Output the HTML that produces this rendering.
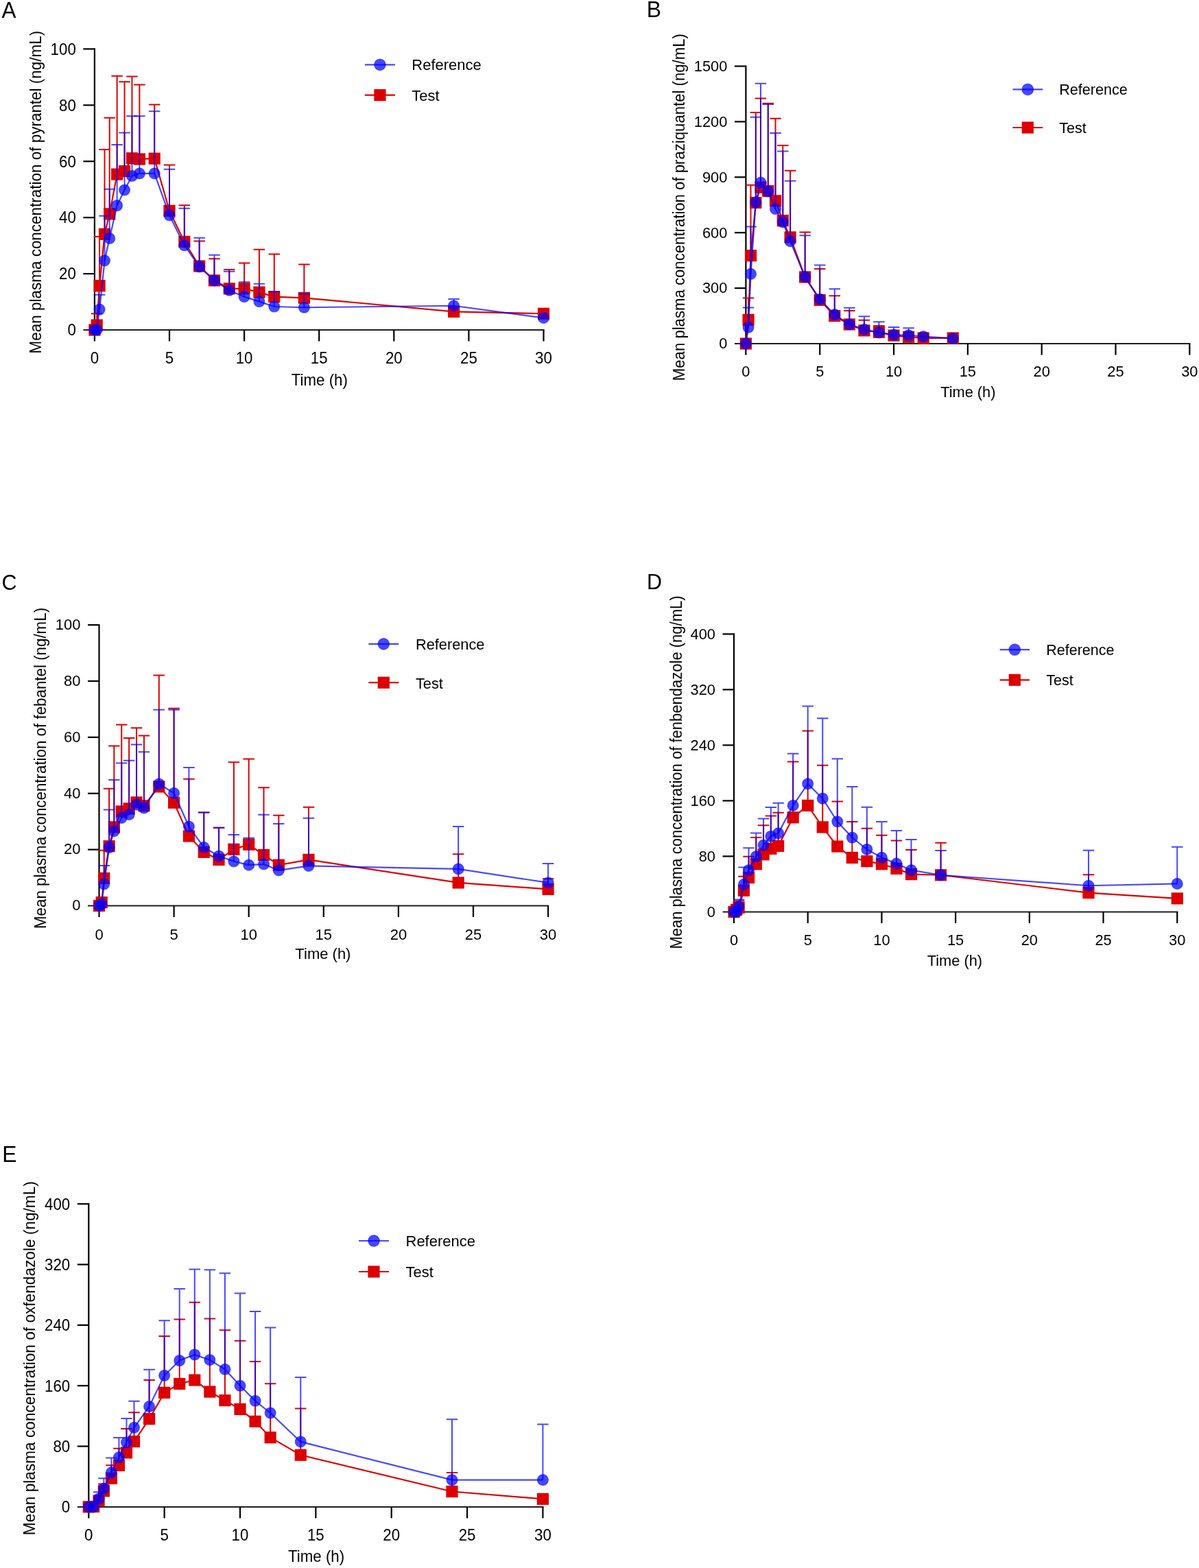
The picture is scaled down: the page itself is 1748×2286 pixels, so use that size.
<!DOCTYPE html>
<html><head><meta charset="utf-8"><title>Mean plasma concentration-time profiles</title>
<style>html,body{margin:0;padding:0;background:#fff}svg{display:block}</style></head>
<body><svg width="1748" height="2286" viewBox="0 0 1748 2286">
<rect width="1748" height="2286" fill="#fff"/>
<g stroke="#000" stroke-width="2.2" fill="none" stroke-linecap="butt">
<path d="M137.9 70.3 V497.5"/>
<path d="M121.4 481 H793.6" stroke="#1e1e1e" stroke-width="2.05"/>
<path d="M121.4 399.08 H137.9"/>
<path d="M121.4 317.16 H137.9"/>
<path d="M121.4 235.24 H137.9"/>
<path d="M121.4 153.32 H137.9"/>
<path d="M121.4 71.4 H137.9"/>
<path d="M247 481 V497.5"/>
<path d="M356.1 481 V497.5"/>
<path d="M465.2 481 V497.5"/>
<path d="M574.3 481 V497.5"/>
<path d="M683.4 481 V497.5"/>
<path d="M792.5 481 V497.5"/>
</g>
<g font-family="'Liberation Sans', Arial, sans-serif" font-size="22.3" fill="#000">
<text transform="translate(110.8 489.3) scale(1 1.045)" text-anchor="end">0</text>
<text transform="translate(110.8 407.38) scale(1 1.045)" text-anchor="end">20</text>
<text transform="translate(110.8 325.46) scale(1 1.045)" text-anchor="end">40</text>
<text transform="translate(110.8 243.54) scale(1 1.045)" text-anchor="end">60</text>
<text transform="translate(110.8 161.62) scale(1 1.045)" text-anchor="end">80</text>
<text transform="translate(110.8 79.7) scale(1 1.045)" text-anchor="end">100</text>
<text transform="translate(137.9 530) scale(1 1.045)" text-anchor="middle">0</text>
<text transform="translate(247 530) scale(1 1.045)" text-anchor="middle">5</text>
<text transform="translate(356.1 530) scale(1 1.045)" text-anchor="middle">10</text>
<text transform="translate(465.2 530) scale(1 1.045)" text-anchor="middle">15</text>
<text transform="translate(574.3 530) scale(1 1.045)" text-anchor="middle">20</text>
<text transform="translate(683.4 530) scale(1 1.045)" text-anchor="middle">25</text>
<text transform="translate(792.5 530) scale(1 1.045)" text-anchor="middle">30</text>
<text transform="translate(465.8 561.8) scale(1 1.045)" text-anchor="middle">Time (h)</text>
<text transform="translate(59.5 280.1) rotate(-90) scale(1 1.045)" text-anchor="middle" font-size="22.46">Mean plasma concentration of pyrantel (ng/mL)</text>
</g>
<text transform="translate(2.4 25.5) scale(1 1.045)" font-family="'Liberation Sans', Arial, sans-serif" font-size="31.4">A</text>
<g font-family="'Liberation Sans', Arial, sans-serif" font-size="22">
<path d="M531.9 138.6 H576" stroke="#dd0000" stroke-width="2.2"/>
<rect x="545.35" y="130" width="17.2" height="17.2" fill="#dd0000"/>
<text transform="translate(600.3 146.6) scale(1 1.045)">Test</text>
<g opacity="1">
<path d="M531.9 94.3 H576" stroke="#0000ff" stroke-opacity="0.72" stroke-width="2.2"/>
<circle cx="553.95" cy="94.3" r="8.35" fill="#0000ff" fill-opacity="0.72" stroke="#0000ff" stroke-opacity="0.45" stroke-width="1.1"/>
</g>
<text transform="translate(600.3 102.3) scale(1 1.045)">Reference</text>
</g>
<polyline points="137.9,481 141.17,474.04 145.1,416.69 152.52,341.33 159.72,311.84 170.63,254.08 181.54,249.58 192.45,230.73 203.36,231.96 225.18,231.14 247,307.33 268.82,352.39 290.64,388.02 312.46,408.91 334.28,420.79 356.1,420.79 377.92,426.11 399.74,432.67 443.38,434.31 661.58,454.38 792.5,457.24" fill="none" stroke="#dd0000" stroke-opacity="1" stroke-width="2.2" stroke-linejoin="miter"/>
<path d="M141.17 474.04 V457.24 M132.92 457.24 H149.42" fill="none" stroke="#dd0000" stroke-opacity="1" stroke-width="2"/>
<path d="M145.1 416.69 V345.01 M136.85 345.01 H153.35" fill="none" stroke="#dd0000" stroke-opacity="1" stroke-width="2"/>
<path d="M152.52 341.33 V218.04 M144.27 218.04 H160.77" fill="none" stroke="#dd0000" stroke-opacity="1" stroke-width="2"/>
<path d="M159.72 311.84 V171.75 M151.47 171.75 H167.97" fill="none" stroke="#dd0000" stroke-opacity="1" stroke-width="2"/>
<path d="M170.63 254.08 V110.72 M162.38 110.72 H178.88" fill="none" stroke="#dd0000" stroke-opacity="1" stroke-width="2"/>
<path d="M181.54 249.58 V119.32 M173.29 119.32 H189.79" fill="none" stroke="#dd0000" stroke-opacity="1" stroke-width="2"/>
<path d="M192.45 230.73 V111.54 M184.2 111.54 H200.7" fill="none" stroke="#dd0000" stroke-opacity="1" stroke-width="2"/>
<path d="M203.36 231.96 V123.42 M195.11 123.42 H211.61" fill="none" stroke="#dd0000" stroke-opacity="1" stroke-width="2"/>
<path d="M225.18 231.14 V152.5 M216.93 152.5 H233.43" fill="none" stroke="#dd0000" stroke-opacity="1" stroke-width="2"/>
<path d="M247 307.33 V240.56 M238.75 240.56 H255.25" fill="none" stroke="#dd0000" stroke-opacity="1" stroke-width="2"/>
<path d="M268.82 352.39 V299.14 M260.57 299.14 H277.07" fill="none" stroke="#dd0000" stroke-opacity="1" stroke-width="2"/>
<path d="M290.64 388.02 V351.57 M282.39 351.57 H298.89" fill="none" stroke="#dd0000" stroke-opacity="1" stroke-width="2"/>
<path d="M312.46 408.91 V377.37 M304.21 377.37 H320.71" fill="none" stroke="#dd0000" stroke-opacity="1" stroke-width="2"/>
<path d="M334.28 420.79 V392.94 M326.03 392.94 H342.53" fill="none" stroke="#dd0000" stroke-opacity="1" stroke-width="2"/>
<path d="M356.1 420.79 V383.52 M347.85 383.52 H364.35" fill="none" stroke="#dd0000" stroke-opacity="1" stroke-width="2"/>
<path d="M377.92 426.11 V363.85 M369.67 363.85 H386.17" fill="none" stroke="#dd0000" stroke-opacity="1" stroke-width="2"/>
<path d="M399.74 432.67 V370.41 M391.49 370.41 H407.99" fill="none" stroke="#dd0000" stroke-opacity="1" stroke-width="2"/>
<path d="M443.38 434.31 V385.56 M435.13 385.56 H451.63" fill="none" stroke="#dd0000" stroke-opacity="1" stroke-width="2"/>
<rect x="129.3" y="472.4" width="17.2" height="17.2" fill="#dd0000"/>
<rect x="132.57" y="465.44" width="17.2" height="17.2" fill="#dd0000"/>
<rect x="136.5" y="408.09" width="17.2" height="17.2" fill="#dd0000"/>
<rect x="143.92" y="332.73" width="17.2" height="17.2" fill="#dd0000"/>
<rect x="151.12" y="303.24" width="17.2" height="17.2" fill="#dd0000"/>
<rect x="162.03" y="245.48" width="17.2" height="17.2" fill="#dd0000"/>
<rect x="172.94" y="240.98" width="17.2" height="17.2" fill="#dd0000"/>
<rect x="183.85" y="222.13" width="17.2" height="17.2" fill="#dd0000"/>
<rect x="194.76" y="223.36" width="17.2" height="17.2" fill="#dd0000"/>
<rect x="216.58" y="222.54" width="17.2" height="17.2" fill="#dd0000"/>
<rect x="238.4" y="298.73" width="17.2" height="17.2" fill="#dd0000"/>
<rect x="260.22" y="343.79" width="17.2" height="17.2" fill="#dd0000"/>
<rect x="282.04" y="379.42" width="17.2" height="17.2" fill="#dd0000"/>
<rect x="303.86" y="400.31" width="17.2" height="17.2" fill="#dd0000"/>
<rect x="325.68" y="412.19" width="17.2" height="17.2" fill="#dd0000"/>
<rect x="347.5" y="412.19" width="17.2" height="17.2" fill="#dd0000"/>
<rect x="369.32" y="417.51" width="17.2" height="17.2" fill="#dd0000"/>
<rect x="391.14" y="424.07" width="17.2" height="17.2" fill="#dd0000"/>
<rect x="434.78" y="425.71" width="17.2" height="17.2" fill="#dd0000"/>
<rect x="652.98" y="445.78" width="17.2" height="17.2" fill="#dd0000"/>
<rect x="783.9" y="448.64" width="17.2" height="17.2" fill="#dd0000"/>
<polyline points="137.9,481 141.17,481 145.1,451.1 152.52,379.83 159.72,347.47 170.63,299.55 181.54,277.02 192.45,256.54 203.36,252.85 225.18,252.85 247,313.88 268.82,357.71 290.64,388.84 312.46,408.91 334.28,423.25 356.1,432.67 377.92,439.63 399.74,447 443.38,448.23 661.58,445.77 792.5,463.39" fill="none" stroke="#0000ff" stroke-opacity="0.72" stroke-width="2.2" stroke-linejoin="miter"/>
<path d="M145.1 451.1 V429.8 M136.85 429.8 H153.35" fill="none" stroke="#0000ff" stroke-opacity="0.72" stroke-width="2"/>
<path d="M152.52 379.83 V314.7 M144.27 314.7 H160.77" fill="none" stroke="#0000ff" stroke-opacity="0.72" stroke-width="2"/>
<path d="M159.72 347.47 V275.79 M151.47 275.79 H167.97" fill="none" stroke="#0000ff" stroke-opacity="0.72" stroke-width="2"/>
<path d="M170.63 299.55 V211.07 M162.38 211.07 H178.88" fill="none" stroke="#0000ff" stroke-opacity="0.72" stroke-width="2"/>
<path d="M181.54 277.02 V193.46 M173.29 193.46 H189.79" fill="none" stroke="#0000ff" stroke-opacity="0.72" stroke-width="2"/>
<path d="M192.45 256.54 V169.29 M184.2 169.29 H200.7" fill="none" stroke="#0000ff" stroke-opacity="0.72" stroke-width="2"/>
<path d="M203.36 252.85 V169.29 M195.11 169.29 H211.61" fill="none" stroke="#0000ff" stroke-opacity="0.72" stroke-width="2"/>
<path d="M225.18 252.85 V162.33 M216.93 162.33 H233.43" fill="none" stroke="#0000ff" stroke-opacity="0.72" stroke-width="2"/>
<path d="M247 313.88 V246.71 M238.75 246.71 H255.25" fill="none" stroke="#0000ff" stroke-opacity="0.72" stroke-width="2"/>
<path d="M268.82 357.71 V303.64 M260.57 303.64 H277.07" fill="none" stroke="#0000ff" stroke-opacity="0.72" stroke-width="2"/>
<path d="M290.64 388.84 V346.65 M282.39 346.65 H298.89" fill="none" stroke="#0000ff" stroke-opacity="0.72" stroke-width="2"/>
<path d="M312.46 408.91 V371.64 M304.21 371.64 H320.71" fill="none" stroke="#0000ff" stroke-opacity="0.72" stroke-width="2"/>
<path d="M334.28 423.25 V395.8 M326.03 395.8 H342.53" fill="none" stroke="#0000ff" stroke-opacity="0.72" stroke-width="2"/>
<path d="M356.1 432.67 V411.37 M347.85 411.37 H364.35" fill="none" stroke="#0000ff" stroke-opacity="0.72" stroke-width="2"/>
<path d="M377.92 439.63 V413.83 M369.67 413.83 H386.17" fill="none" stroke="#0000ff" stroke-opacity="0.72" stroke-width="2"/>
<path d="M399.74 447 V425.29 M391.49 425.29 H407.99" fill="none" stroke="#0000ff" stroke-opacity="0.72" stroke-width="2"/>
<path d="M443.38 448.23 V428.16 M435.13 428.16 H451.63" fill="none" stroke="#0000ff" stroke-opacity="0.72" stroke-width="2"/>
<path d="M661.58 445.77 V435.94 M653.33 435.94 H669.83" fill="none" stroke="#0000ff" stroke-opacity="0.72" stroke-width="2"/>
<circle cx="137.9" cy="481" r="8.05" fill="#0000ff" fill-opacity="0.72" stroke="#0000ff" stroke-opacity="0.45" stroke-width="1.1"/>
<circle cx="141.17" cy="481" r="8.05" fill="#0000ff" fill-opacity="0.72" stroke="#0000ff" stroke-opacity="0.45" stroke-width="1.1"/>
<circle cx="145.1" cy="451.1" r="8.05" fill="#0000ff" fill-opacity="0.72" stroke="#0000ff" stroke-opacity="0.45" stroke-width="1.1"/>
<circle cx="152.52" cy="379.83" r="8.05" fill="#0000ff" fill-opacity="0.72" stroke="#0000ff" stroke-opacity="0.45" stroke-width="1.1"/>
<circle cx="159.72" cy="347.47" r="8.05" fill="#0000ff" fill-opacity="0.72" stroke="#0000ff" stroke-opacity="0.45" stroke-width="1.1"/>
<circle cx="170.63" cy="299.55" r="8.05" fill="#0000ff" fill-opacity="0.72" stroke="#0000ff" stroke-opacity="0.45" stroke-width="1.1"/>
<circle cx="181.54" cy="277.02" r="8.05" fill="#0000ff" fill-opacity="0.72" stroke="#0000ff" stroke-opacity="0.45" stroke-width="1.1"/>
<circle cx="192.45" cy="256.54" r="8.05" fill="#0000ff" fill-opacity="0.72" stroke="#0000ff" stroke-opacity="0.45" stroke-width="1.1"/>
<circle cx="203.36" cy="252.85" r="8.05" fill="#0000ff" fill-opacity="0.72" stroke="#0000ff" stroke-opacity="0.45" stroke-width="1.1"/>
<circle cx="225.18" cy="252.85" r="8.05" fill="#0000ff" fill-opacity="0.72" stroke="#0000ff" stroke-opacity="0.45" stroke-width="1.1"/>
<circle cx="247" cy="313.88" r="8.05" fill="#0000ff" fill-opacity="0.72" stroke="#0000ff" stroke-opacity="0.45" stroke-width="1.1"/>
<circle cx="268.82" cy="357.71" r="8.05" fill="#0000ff" fill-opacity="0.72" stroke="#0000ff" stroke-opacity="0.45" stroke-width="1.1"/>
<circle cx="290.64" cy="388.84" r="8.05" fill="#0000ff" fill-opacity="0.72" stroke="#0000ff" stroke-opacity="0.45" stroke-width="1.1"/>
<circle cx="312.46" cy="408.91" r="8.05" fill="#0000ff" fill-opacity="0.72" stroke="#0000ff" stroke-opacity="0.45" stroke-width="1.1"/>
<circle cx="334.28" cy="423.25" r="8.05" fill="#0000ff" fill-opacity="0.72" stroke="#0000ff" stroke-opacity="0.45" stroke-width="1.1"/>
<circle cx="356.1" cy="432.67" r="8.05" fill="#0000ff" fill-opacity="0.72" stroke="#0000ff" stroke-opacity="0.45" stroke-width="1.1"/>
<circle cx="377.92" cy="439.63" r="8.05" fill="#0000ff" fill-opacity="0.72" stroke="#0000ff" stroke-opacity="0.45" stroke-width="1.1"/>
<circle cx="399.74" cy="447" r="8.05" fill="#0000ff" fill-opacity="0.72" stroke="#0000ff" stroke-opacity="0.45" stroke-width="1.1"/>
<circle cx="443.38" cy="448.23" r="8.05" fill="#0000ff" fill-opacity="0.72" stroke="#0000ff" stroke-opacity="0.45" stroke-width="1.1"/>
<circle cx="661.58" cy="445.77" r="8.05" fill="#0000ff" fill-opacity="0.72" stroke="#0000ff" stroke-opacity="0.45" stroke-width="1.1"/>
<circle cx="792.5" cy="463.39" r="8.05" fill="#0000ff" fill-opacity="0.72" stroke="#0000ff" stroke-opacity="0.45" stroke-width="1.1"/>
<g stroke="#000" stroke-width="2.2" fill="none" stroke-linecap="butt">
<path d="M1087.4 95.4 V517.5"/>
<path d="M1070.9 501 H1735.4" stroke="#1e1e1e" stroke-width="2.05"/>
<path d="M1070.9 420.1 H1087.4"/>
<path d="M1070.9 339.2 H1087.4"/>
<path d="M1070.9 258.3 H1087.4"/>
<path d="M1070.9 177.4 H1087.4"/>
<path d="M1070.9 96.5 H1087.4"/>
<path d="M1195.22 501 V517.5"/>
<path d="M1303.03 501 V517.5"/>
<path d="M1410.85 501 V517.5"/>
<path d="M1518.67 501 V517.5"/>
<path d="M1626.48 501 V517.5"/>
<path d="M1734.3 501 V517.5"/>
</g>
<g font-family="'Liberation Sans', Arial, sans-serif" font-size="21.8" fill="#000">
<text transform="translate(1060.3 508.3) scale(1 1.045)" text-anchor="end">0</text>
<text transform="translate(1060.3 427.4) scale(1 1.045)" text-anchor="end">300</text>
<text transform="translate(1060.3 346.5) scale(1 1.045)" text-anchor="end">600</text>
<text transform="translate(1060.3 265.6) scale(1 1.045)" text-anchor="end">900</text>
<text transform="translate(1060.3 184.7) scale(1 1.045)" text-anchor="end">1200</text>
<text transform="translate(1060.3 103.8) scale(1 1.045)" text-anchor="end">1500</text>
<text transform="translate(1087.4 549) scale(1 1.045)" text-anchor="middle">0</text>
<text transform="translate(1195.22 549) scale(1 1.045)" text-anchor="middle">5</text>
<text transform="translate(1303.03 549) scale(1 1.045)" text-anchor="middle">10</text>
<text transform="translate(1410.85 549) scale(1 1.045)" text-anchor="middle">15</text>
<text transform="translate(1518.67 549) scale(1 1.045)" text-anchor="middle">20</text>
<text transform="translate(1626.48 549) scale(1 1.045)" text-anchor="middle">25</text>
<text transform="translate(1734.3 549) scale(1 1.045)" text-anchor="middle">30</text>
<text transform="translate(1411.3 579.2) scale(1 1.045)" text-anchor="middle">Time (h)</text>
<text transform="translate(998 302.15) rotate(-90) scale(1 1.045)" text-anchor="middle" font-size="22.16">Mean plasma concentration of praziquantel (ng/mL)</text>
</g>
<text transform="translate(942.8 25) scale(1 1.045)" font-family="'Liberation Sans', Arial, sans-serif" font-size="31.8">B</text>
<g font-family="'Liberation Sans', Arial, sans-serif" font-size="21.6">
<path d="M1476.4 186 H1520.2" stroke="#dd0000" stroke-width="2.2"/>
<rect x="1489.7" y="177.4" width="17.2" height="17.2" fill="#dd0000"/>
<text transform="translate(1544.2 194) scale(1 1.045)">Test</text>
<g opacity="1">
<path d="M1476.4 130.4 H1520.2" stroke="#0000ff" stroke-opacity="0.72" stroke-width="2.2"/>
<circle cx="1498.3" cy="130.4" r="8.35" fill="#0000ff" fill-opacity="0.72" stroke="#0000ff" stroke-opacity="0.45" stroke-width="1.1"/>
</g>
<text transform="translate(1544.2 138.4) scale(1 1.045)">Reference</text>
</g>
<polyline points="1087.4,501 1091.07,466.21 1094.52,372.64 1101.85,295.51 1108.96,273.13 1119.75,278.52 1130.53,292.82 1141.31,321.67 1152.09,345.94 1173.65,403.92 1195.22,437.36 1216.78,460.55 1238.34,472.95 1259.91,481.85 1281.47,484.28 1303.03,489.13 1324.6,491.29 1346.16,492.91 1389.29,492.91" fill="none" stroke="#dd0000" stroke-opacity="1" stroke-width="2.2" stroke-linejoin="miter"/>
<path d="M1091.07 466.21 V434.39 M1082.82 434.39 H1099.32" fill="none" stroke="#dd0000" stroke-opacity="1" stroke-width="2"/>
<path d="M1094.52 372.64 V269.63 M1086.27 269.63 H1102.77" fill="none" stroke="#dd0000" stroke-opacity="1" stroke-width="2"/>
<path d="M1101.85 295.51 V163.92 M1093.6 163.92 H1110.1" fill="none" stroke="#dd0000" stroke-opacity="1" stroke-width="2"/>
<path d="M1108.96 273.13 V143.42 M1100.71 143.42 H1117.21" fill="none" stroke="#dd0000" stroke-opacity="1" stroke-width="2"/>
<path d="M1119.75 278.52 V150.7 M1111.5 150.7 H1128" fill="none" stroke="#dd0000" stroke-opacity="1" stroke-width="2"/>
<path d="M1130.53 292.82 V172.82 M1122.28 172.82 H1138.78" fill="none" stroke="#dd0000" stroke-opacity="1" stroke-width="2"/>
<path d="M1141.31 321.67 V211.92 M1133.06 211.92 H1149.56" fill="none" stroke="#dd0000" stroke-opacity="1" stroke-width="2"/>
<path d="M1152.09 345.94 V248.86 M1143.84 248.86 H1160.34" fill="none" stroke="#dd0000" stroke-opacity="1" stroke-width="2"/>
<path d="M1173.65 403.92 V338.39 M1165.4 338.39 H1181.9" fill="none" stroke="#dd0000" stroke-opacity="1" stroke-width="2"/>
<path d="M1195.22 437.36 V392.05 M1186.97 392.05 H1203.47" fill="none" stroke="#dd0000" stroke-opacity="1" stroke-width="2"/>
<path d="M1216.78 460.55 V431.16 M1208.53 431.16 H1225.03" fill="none" stroke="#dd0000" stroke-opacity="1" stroke-width="2"/>
<path d="M1238.34 472.95 V453 M1230.09 453 H1246.59" fill="none" stroke="#dd0000" stroke-opacity="1" stroke-width="2"/>
<path d="M1259.91 481.85 V466.75 M1251.66 466.75 H1268.16" fill="none" stroke="#dd0000" stroke-opacity="1" stroke-width="2"/>
<path d="M1281.47 484.28 V475.11 M1273.22 475.11 H1289.72" fill="none" stroke="#dd0000" stroke-opacity="1" stroke-width="2"/>
<rect x="1078.8" y="492.4" width="17.2" height="17.2" fill="#dd0000"/>
<rect x="1082.47" y="457.61" width="17.2" height="17.2" fill="#dd0000"/>
<rect x="1085.92" y="364.04" width="17.2" height="17.2" fill="#dd0000"/>
<rect x="1093.25" y="286.91" width="17.2" height="17.2" fill="#dd0000"/>
<rect x="1100.36" y="264.53" width="17.2" height="17.2" fill="#dd0000"/>
<rect x="1111.15" y="269.92" width="17.2" height="17.2" fill="#dd0000"/>
<rect x="1121.93" y="284.22" width="17.2" height="17.2" fill="#dd0000"/>
<rect x="1132.71" y="313.07" width="17.2" height="17.2" fill="#dd0000"/>
<rect x="1143.49" y="337.34" width="17.2" height="17.2" fill="#dd0000"/>
<rect x="1165.05" y="395.32" width="17.2" height="17.2" fill="#dd0000"/>
<rect x="1186.62" y="428.76" width="17.2" height="17.2" fill="#dd0000"/>
<rect x="1208.18" y="451.95" width="17.2" height="17.2" fill="#dd0000"/>
<rect x="1229.74" y="464.35" width="17.2" height="17.2" fill="#dd0000"/>
<rect x="1251.31" y="473.25" width="17.2" height="17.2" fill="#dd0000"/>
<rect x="1272.87" y="475.68" width="17.2" height="17.2" fill="#dd0000"/>
<rect x="1294.43" y="480.53" width="17.2" height="17.2" fill="#dd0000"/>
<rect x="1316" y="482.69" width="17.2" height="17.2" fill="#dd0000"/>
<rect x="1337.56" y="484.31" width="17.2" height="17.2" fill="#dd0000"/>
<rect x="1380.69" y="484.31" width="17.2" height="17.2" fill="#dd0000"/>
<polyline points="1087.4,501 1091.07,477.27 1094.52,399.34 1101.85,294.97 1108.96,266.12 1119.75,279.06 1130.53,304.68 1141.31,323.83 1152.09,351.6 1173.65,403.65 1195.22,436.28 1216.78,458.66 1238.34,472.69 1259.91,480.24 1281.47,484.82 1303.03,488.06 1324.6,488.87 1346.16,490.48 1389.29,493.45" fill="none" stroke="#0000ff" stroke-opacity="0.72" stroke-width="2.2" stroke-linejoin="miter"/>
<path d="M1091.07 477.27 V448.42 M1082.82 448.42 H1099.32" fill="none" stroke="#0000ff" stroke-opacity="0.72" stroke-width="2"/>
<path d="M1094.52 399.34 V330.57 M1086.27 330.57 H1102.77" fill="none" stroke="#0000ff" stroke-opacity="0.72" stroke-width="2"/>
<path d="M1101.85 294.97 V170.66 M1093.6 170.66 H1110.1" fill="none" stroke="#0000ff" stroke-opacity="0.72" stroke-width="2"/>
<path d="M1108.96 266.12 V121.85 M1100.71 121.85 H1117.21" fill="none" stroke="#0000ff" stroke-opacity="0.72" stroke-width="2"/>
<path d="M1119.75 279.06 V152.05 M1111.5 152.05 H1128" fill="none" stroke="#0000ff" stroke-opacity="0.72" stroke-width="2"/>
<path d="M1130.53 304.68 V194.12 M1122.28 194.12 H1138.78" fill="none" stroke="#0000ff" stroke-opacity="0.72" stroke-width="2"/>
<path d="M1141.31 323.83 V220.55 M1133.06 220.55 H1149.56" fill="none" stroke="#0000ff" stroke-opacity="0.72" stroke-width="2"/>
<path d="M1152.09 351.6 V263.69 M1143.84 263.69 H1160.34" fill="none" stroke="#0000ff" stroke-opacity="0.72" stroke-width="2"/>
<path d="M1173.65 403.65 V343.25 M1165.4 343.25 H1181.9" fill="none" stroke="#0000ff" stroke-opacity="0.72" stroke-width="2"/>
<path d="M1195.22 436.28 V386.39 M1186.97 386.39 H1203.47" fill="none" stroke="#0000ff" stroke-opacity="0.72" stroke-width="2"/>
<path d="M1216.78 458.66 V421.18 M1208.53 421.18 H1225.03" fill="none" stroke="#0000ff" stroke-opacity="0.72" stroke-width="2"/>
<path d="M1238.34 472.69 V448.68 M1230.09 448.68 H1246.59" fill="none" stroke="#0000ff" stroke-opacity="0.72" stroke-width="2"/>
<path d="M1259.91 480.24 V461.36 M1251.66 461.36 H1268.16" fill="none" stroke="#0000ff" stroke-opacity="0.72" stroke-width="2"/>
<path d="M1281.47 484.82 V469.18 M1273.22 469.18 H1289.72" fill="none" stroke="#0000ff" stroke-opacity="0.72" stroke-width="2"/>
<path d="M1303.03 488.06 V477 M1294.78 477 H1311.28" fill="none" stroke="#0000ff" stroke-opacity="0.72" stroke-width="2"/>
<path d="M1324.6 488.87 V478.35 M1316.35 478.35 H1332.85" fill="none" stroke="#0000ff" stroke-opacity="0.72" stroke-width="2"/>
<circle cx="1087.4" cy="501" r="8.05" fill="#0000ff" fill-opacity="0.72" stroke="#0000ff" stroke-opacity="0.45" stroke-width="1.1"/>
<circle cx="1091.07" cy="477.27" r="8.05" fill="#0000ff" fill-opacity="0.72" stroke="#0000ff" stroke-opacity="0.45" stroke-width="1.1"/>
<circle cx="1094.52" cy="399.34" r="8.05" fill="#0000ff" fill-opacity="0.72" stroke="#0000ff" stroke-opacity="0.45" stroke-width="1.1"/>
<circle cx="1101.85" cy="294.97" r="8.05" fill="#0000ff" fill-opacity="0.72" stroke="#0000ff" stroke-opacity="0.45" stroke-width="1.1"/>
<circle cx="1108.96" cy="266.12" r="8.05" fill="#0000ff" fill-opacity="0.72" stroke="#0000ff" stroke-opacity="0.45" stroke-width="1.1"/>
<circle cx="1119.75" cy="279.06" r="8.05" fill="#0000ff" fill-opacity="0.72" stroke="#0000ff" stroke-opacity="0.45" stroke-width="1.1"/>
<circle cx="1130.53" cy="304.68" r="8.05" fill="#0000ff" fill-opacity="0.72" stroke="#0000ff" stroke-opacity="0.45" stroke-width="1.1"/>
<circle cx="1141.31" cy="323.83" r="8.05" fill="#0000ff" fill-opacity="0.72" stroke="#0000ff" stroke-opacity="0.45" stroke-width="1.1"/>
<circle cx="1152.09" cy="351.6" r="8.05" fill="#0000ff" fill-opacity="0.72" stroke="#0000ff" stroke-opacity="0.45" stroke-width="1.1"/>
<circle cx="1173.65" cy="403.65" r="8.05" fill="#0000ff" fill-opacity="0.72" stroke="#0000ff" stroke-opacity="0.45" stroke-width="1.1"/>
<circle cx="1195.22" cy="436.28" r="8.05" fill="#0000ff" fill-opacity="0.72" stroke="#0000ff" stroke-opacity="0.45" stroke-width="1.1"/>
<circle cx="1216.78" cy="458.66" r="8.05" fill="#0000ff" fill-opacity="0.72" stroke="#0000ff" stroke-opacity="0.45" stroke-width="1.1"/>
<circle cx="1238.34" cy="472.69" r="8.05" fill="#0000ff" fill-opacity="0.72" stroke="#0000ff" stroke-opacity="0.45" stroke-width="1.1"/>
<circle cx="1259.91" cy="480.24" r="8.05" fill="#0000ff" fill-opacity="0.72" stroke="#0000ff" stroke-opacity="0.45" stroke-width="1.1"/>
<circle cx="1281.47" cy="484.82" r="8.05" fill="#0000ff" fill-opacity="0.72" stroke="#0000ff" stroke-opacity="0.45" stroke-width="1.1"/>
<circle cx="1303.03" cy="488.06" r="8.05" fill="#0000ff" fill-opacity="0.72" stroke="#0000ff" stroke-opacity="0.45" stroke-width="1.1"/>
<circle cx="1324.6" cy="488.87" r="8.05" fill="#0000ff" fill-opacity="0.72" stroke="#0000ff" stroke-opacity="0.45" stroke-width="1.1"/>
<circle cx="1346.16" cy="490.48" r="8.05" fill="#0000ff" fill-opacity="0.72" stroke="#0000ff" stroke-opacity="0.45" stroke-width="1.1"/>
<circle cx="1389.29" cy="493.45" r="8.05" fill="#0000ff" fill-opacity="0.72" stroke="#0000ff" stroke-opacity="0.45" stroke-width="1.1"/>
<g stroke="#000" stroke-width="2.2" fill="none" stroke-linecap="butt">
<path d="M144.5 910 V1337"/>
<path d="M128 1320.5 H800.2" stroke="#1e1e1e" stroke-width="2.05"/>
<path d="M128 1238.62 H144.5"/>
<path d="M128 1156.74 H144.5"/>
<path d="M128 1074.86 H144.5"/>
<path d="M128 992.98 H144.5"/>
<path d="M128 911.1 H144.5"/>
<path d="M253.6 1320.5 V1337"/>
<path d="M362.7 1320.5 V1337"/>
<path d="M471.8 1320.5 V1337"/>
<path d="M580.9 1320.5 V1337"/>
<path d="M690 1320.5 V1337"/>
<path d="M799.1 1320.5 V1337"/>
</g>
<g font-family="'Liberation Sans', Arial, sans-serif" font-size="22" fill="#000">
<text transform="translate(117.4 1327.3) scale(1 1.045)" text-anchor="end">0</text>
<text transform="translate(117.4 1245.42) scale(1 1.045)" text-anchor="end">20</text>
<text transform="translate(117.4 1163.54) scale(1 1.045)" text-anchor="end">40</text>
<text transform="translate(117.4 1081.66) scale(1 1.045)" text-anchor="end">60</text>
<text transform="translate(117.4 999.78) scale(1 1.045)" text-anchor="end">80</text>
<text transform="translate(117.4 917.9) scale(1 1.045)" text-anchor="end">100</text>
<text transform="translate(144.5 1370) scale(1 1.045)" text-anchor="middle">0</text>
<text transform="translate(253.6 1370) scale(1 1.045)" text-anchor="middle">5</text>
<text transform="translate(362.7 1370) scale(1 1.045)" text-anchor="middle">10</text>
<text transform="translate(471.8 1370) scale(1 1.045)" text-anchor="middle">15</text>
<text transform="translate(580.9 1370) scale(1 1.045)" text-anchor="middle">20</text>
<text transform="translate(690 1370) scale(1 1.045)" text-anchor="middle">25</text>
<text transform="translate(799.1 1370) scale(1 1.045)" text-anchor="middle">30</text>
<text transform="translate(470.9 1398.1) scale(1 1.045)" text-anchor="middle">Time (h)</text>
<text transform="translate(66.5 1119.95) rotate(-90) scale(1 1.045)" text-anchor="middle" font-size="22.35">Mean plasma concentration of febantel (ng/mL)</text>
</g>
<text transform="translate(2.5 860.2) scale(1 1.045)" font-family="'Liberation Sans', Arial, sans-serif" font-size="30.5">C</text>
<g font-family="'Liberation Sans', Arial, sans-serif" font-size="21.8">
<path d="M537.3 995.2 H581.3" stroke="#dd0000" stroke-width="2.2"/>
<rect x="550.7" y="986.6" width="17.2" height="17.2" fill="#dd0000"/>
<text transform="translate(605.9 1003.5) scale(1 1.045)">Test</text>
<g opacity="1">
<path d="M537.3 938.8 H581.3" stroke="#0000ff" stroke-opacity="0.72" stroke-width="2.2"/>
<circle cx="559.3" cy="938.8" r="8.35" fill="#0000ff" fill-opacity="0.72" stroke="#0000ff" stroke-opacity="0.45" stroke-width="1.1"/>
</g>
<text transform="translate(605.9 947.1) scale(1 1.045)">Reference</text>
</g>
<polyline points="144.5,1320.5 148.21,1315.59 151.7,1280.38 159.12,1233.71 166.32,1205.87 177.23,1182.94 188.14,1178.85 199.05,1169.84 209.96,1174.75 231.78,1146.91 253.6,1170.25 275.42,1218.97 297.24,1242.3 319.06,1253.36 340.88,1238.21 362.7,1231.25 384.52,1246.4 406.34,1261.14 449.98,1253.36 668.18,1286.93 799.1,1296.35" fill="none" stroke="#dd0000" stroke-opacity="1" stroke-width="2.2" stroke-linejoin="miter"/>
<path d="M151.7 1280.38 V1239.85 M143.45 1239.85 H159.95" fill="none" stroke="#dd0000" stroke-opacity="1" stroke-width="2"/>
<path d="M159.12 1233.71 V1149.78 M150.87 1149.78 H167.37" fill="none" stroke="#dd0000" stroke-opacity="1" stroke-width="2"/>
<path d="M166.32 1205.87 V1087.55 M158.07 1087.55 H174.57" fill="none" stroke="#dd0000" stroke-opacity="1" stroke-width="2"/>
<path d="M177.23 1182.94 V1056.44 M168.98 1056.44 H185.48" fill="none" stroke="#dd0000" stroke-opacity="1" stroke-width="2"/>
<path d="M188.14 1178.85 V1076.09 M179.89 1076.09 H196.39" fill="none" stroke="#dd0000" stroke-opacity="1" stroke-width="2"/>
<path d="M199.05 1169.84 V1061.35 M190.8 1061.35 H207.3" fill="none" stroke="#dd0000" stroke-opacity="1" stroke-width="2"/>
<path d="M209.96 1174.75 V1072.4 M201.71 1072.4 H218.21" fill="none" stroke="#dd0000" stroke-opacity="1" stroke-width="2"/>
<path d="M231.78 1146.91 V984.38 M223.53 984.38 H240.03" fill="none" stroke="#dd0000" stroke-opacity="1" stroke-width="2"/>
<path d="M253.6 1170.25 V1032.69 M245.35 1032.69 H261.85" fill="none" stroke="#dd0000" stroke-opacity="1" stroke-width="2"/>
<path d="M275.42 1218.97 V1135.86 M267.17 1135.86 H283.67" fill="none" stroke="#dd0000" stroke-opacity="1" stroke-width="2"/>
<path d="M297.24 1242.3 V1184.58 M288.99 1184.58 H305.49" fill="none" stroke="#dd0000" stroke-opacity="1" stroke-width="2"/>
<path d="M319.06 1253.36 V1206.69 M310.81 1206.69 H327.31" fill="none" stroke="#dd0000" stroke-opacity="1" stroke-width="2"/>
<path d="M340.88 1238.21 V1111.3 M332.63 1111.3 H349.13" fill="none" stroke="#dd0000" stroke-opacity="1" stroke-width="2"/>
<path d="M362.7 1231.25 V1106.38 M354.45 1106.38 H370.95" fill="none" stroke="#dd0000" stroke-opacity="1" stroke-width="2"/>
<path d="M384.52 1246.4 V1148.14 M376.27 1148.14 H392.77" fill="none" stroke="#dd0000" stroke-opacity="1" stroke-width="2"/>
<path d="M406.34 1261.14 V1188.67 M398.09 1188.67 H414.59" fill="none" stroke="#dd0000" stroke-opacity="1" stroke-width="2"/>
<path d="M449.98 1253.36 V1176.8 M441.73 1176.8 H458.23" fill="none" stroke="#dd0000" stroke-opacity="1" stroke-width="2"/>
<path d="M668.18 1286.93 V1245.17 M659.93 1245.17 H676.43" fill="none" stroke="#dd0000" stroke-opacity="1" stroke-width="2"/>
<path d="M799.1 1296.35 V1281.2 M790.85 1281.2 H807.35" fill="none" stroke="#dd0000" stroke-opacity="1" stroke-width="2"/>
<rect x="135.9" y="1311.9" width="17.2" height="17.2" fill="#dd0000"/>
<rect x="139.61" y="1306.99" width="17.2" height="17.2" fill="#dd0000"/>
<rect x="143.1" y="1271.78" width="17.2" height="17.2" fill="#dd0000"/>
<rect x="150.52" y="1225.11" width="17.2" height="17.2" fill="#dd0000"/>
<rect x="157.72" y="1197.27" width="17.2" height="17.2" fill="#dd0000"/>
<rect x="168.63" y="1174.34" width="17.2" height="17.2" fill="#dd0000"/>
<rect x="179.54" y="1170.25" width="17.2" height="17.2" fill="#dd0000"/>
<rect x="190.45" y="1161.24" width="17.2" height="17.2" fill="#dd0000"/>
<rect x="201.36" y="1166.15" width="17.2" height="17.2" fill="#dd0000"/>
<rect x="223.18" y="1138.31" width="17.2" height="17.2" fill="#dd0000"/>
<rect x="245" y="1161.65" width="17.2" height="17.2" fill="#dd0000"/>
<rect x="266.82" y="1210.37" width="17.2" height="17.2" fill="#dd0000"/>
<rect x="288.64" y="1233.7" width="17.2" height="17.2" fill="#dd0000"/>
<rect x="310.46" y="1244.76" width="17.2" height="17.2" fill="#dd0000"/>
<rect x="332.28" y="1229.61" width="17.2" height="17.2" fill="#dd0000"/>
<rect x="354.1" y="1222.65" width="17.2" height="17.2" fill="#dd0000"/>
<rect x="375.92" y="1237.8" width="17.2" height="17.2" fill="#dd0000"/>
<rect x="397.74" y="1252.54" width="17.2" height="17.2" fill="#dd0000"/>
<rect x="441.38" y="1244.76" width="17.2" height="17.2" fill="#dd0000"/>
<rect x="659.58" y="1278.33" width="17.2" height="17.2" fill="#dd0000"/>
<rect x="790.5" y="1287.75" width="17.2" height="17.2" fill="#dd0000"/>
<polyline points="144.5,1320.5 148.21,1318.04 151.7,1288.98 159.12,1235.34 166.32,1211.6 177.23,1192.36 188.14,1187.44 199.05,1173.12 209.96,1178.03 231.78,1142.82 253.6,1156.33 275.42,1205.05 297.24,1235.34 319.06,1248.04 340.88,1255.81 362.7,1261.14 384.52,1259.91 406.34,1268.92 449.98,1262.37 668.18,1266.87 799.1,1286.93" fill="none" stroke="#0000ff" stroke-opacity="0.72" stroke-width="2.2" stroke-linejoin="miter"/>
<path d="M151.7 1288.98 V1261.96 M143.45 1261.96 H159.95" fill="none" stroke="#0000ff" stroke-opacity="0.72" stroke-width="2"/>
<path d="M159.12 1235.34 V1180.49 M150.87 1180.49 H167.37" fill="none" stroke="#0000ff" stroke-opacity="0.72" stroke-width="2"/>
<path d="M166.32 1211.6 V1137.09 M158.07 1137.09 H174.57" fill="none" stroke="#0000ff" stroke-opacity="0.72" stroke-width="2"/>
<path d="M177.23 1192.36 V1112.52 M168.98 1112.52 H185.48" fill="none" stroke="#0000ff" stroke-opacity="0.72" stroke-width="2"/>
<path d="M188.14 1187.44 V1108.84 M179.89 1108.84 H196.39" fill="none" stroke="#0000ff" stroke-opacity="0.72" stroke-width="2"/>
<path d="M199.05 1173.12 V1085.5 M190.8 1085.5 H207.3" fill="none" stroke="#0000ff" stroke-opacity="0.72" stroke-width="2"/>
<path d="M209.96 1178.03 V1096.15 M201.71 1096.15 H218.21" fill="none" stroke="#0000ff" stroke-opacity="0.72" stroke-width="2"/>
<path d="M231.78 1142.82 V1034.74 M223.53 1034.74 H240.03" fill="none" stroke="#0000ff" stroke-opacity="0.72" stroke-width="2"/>
<path d="M253.6 1156.33 V1034.74 M245.35 1034.74 H261.85" fill="none" stroke="#0000ff" stroke-opacity="0.72" stroke-width="2"/>
<path d="M275.42 1205.05 V1119.08 M267.17 1119.08 H283.67" fill="none" stroke="#0000ff" stroke-opacity="0.72" stroke-width="2"/>
<path d="M297.24 1235.34 V1184.58 M288.99 1184.58 H305.49" fill="none" stroke="#0000ff" stroke-opacity="0.72" stroke-width="2"/>
<path d="M319.06 1248.04 V1206.69 M310.81 1206.69 H327.31" fill="none" stroke="#0000ff" stroke-opacity="0.72" stroke-width="2"/>
<path d="M340.88 1255.81 V1216.92 M332.63 1216.92 H349.13" fill="none" stroke="#0000ff" stroke-opacity="0.72" stroke-width="2"/>
<path d="M362.7 1261.14 V1221.83 M354.45 1221.83 H370.95" fill="none" stroke="#0000ff" stroke-opacity="0.72" stroke-width="2"/>
<path d="M384.52 1259.91 V1187.85 M376.27 1187.85 H392.77" fill="none" stroke="#0000ff" stroke-opacity="0.72" stroke-width="2"/>
<path d="M406.34 1268.92 V1200.96 M398.09 1200.96 H414.59" fill="none" stroke="#0000ff" stroke-opacity="0.72" stroke-width="2"/>
<path d="M449.98 1262.37 V1192.77 M441.73 1192.77 H458.23" fill="none" stroke="#0000ff" stroke-opacity="0.72" stroke-width="2"/>
<path d="M668.18 1266.87 V1205.05 M659.93 1205.05 H676.43" fill="none" stroke="#0000ff" stroke-opacity="0.72" stroke-width="2"/>
<path d="M799.1 1286.93 V1259.09 M790.85 1259.09 H807.35" fill="none" stroke="#0000ff" stroke-opacity="0.72" stroke-width="2"/>
<circle cx="144.5" cy="1320.5" r="8.05" fill="#0000ff" fill-opacity="0.72" stroke="#0000ff" stroke-opacity="0.45" stroke-width="1.1"/>
<circle cx="148.21" cy="1318.04" r="8.05" fill="#0000ff" fill-opacity="0.72" stroke="#0000ff" stroke-opacity="0.45" stroke-width="1.1"/>
<circle cx="151.7" cy="1288.98" r="8.05" fill="#0000ff" fill-opacity="0.72" stroke="#0000ff" stroke-opacity="0.45" stroke-width="1.1"/>
<circle cx="159.12" cy="1235.34" r="8.05" fill="#0000ff" fill-opacity="0.72" stroke="#0000ff" stroke-opacity="0.45" stroke-width="1.1"/>
<circle cx="166.32" cy="1211.6" r="8.05" fill="#0000ff" fill-opacity="0.72" stroke="#0000ff" stroke-opacity="0.45" stroke-width="1.1"/>
<circle cx="177.23" cy="1192.36" r="8.05" fill="#0000ff" fill-opacity="0.72" stroke="#0000ff" stroke-opacity="0.45" stroke-width="1.1"/>
<circle cx="188.14" cy="1187.44" r="8.05" fill="#0000ff" fill-opacity="0.72" stroke="#0000ff" stroke-opacity="0.45" stroke-width="1.1"/>
<circle cx="199.05" cy="1173.12" r="8.05" fill="#0000ff" fill-opacity="0.72" stroke="#0000ff" stroke-opacity="0.45" stroke-width="1.1"/>
<circle cx="209.96" cy="1178.03" r="8.05" fill="#0000ff" fill-opacity="0.72" stroke="#0000ff" stroke-opacity="0.45" stroke-width="1.1"/>
<circle cx="231.78" cy="1142.82" r="8.05" fill="#0000ff" fill-opacity="0.72" stroke="#0000ff" stroke-opacity="0.45" stroke-width="1.1"/>
<circle cx="253.6" cy="1156.33" r="8.05" fill="#0000ff" fill-opacity="0.72" stroke="#0000ff" stroke-opacity="0.45" stroke-width="1.1"/>
<circle cx="275.42" cy="1205.05" r="8.05" fill="#0000ff" fill-opacity="0.72" stroke="#0000ff" stroke-opacity="0.45" stroke-width="1.1"/>
<circle cx="297.24" cy="1235.34" r="8.05" fill="#0000ff" fill-opacity="0.72" stroke="#0000ff" stroke-opacity="0.45" stroke-width="1.1"/>
<circle cx="319.06" cy="1248.04" r="8.05" fill="#0000ff" fill-opacity="0.72" stroke="#0000ff" stroke-opacity="0.45" stroke-width="1.1"/>
<circle cx="340.88" cy="1255.81" r="8.05" fill="#0000ff" fill-opacity="0.72" stroke="#0000ff" stroke-opacity="0.45" stroke-width="1.1"/>
<circle cx="362.7" cy="1261.14" r="8.05" fill="#0000ff" fill-opacity="0.72" stroke="#0000ff" stroke-opacity="0.45" stroke-width="1.1"/>
<circle cx="384.52" cy="1259.91" r="8.05" fill="#0000ff" fill-opacity="0.72" stroke="#0000ff" stroke-opacity="0.45" stroke-width="1.1"/>
<circle cx="406.34" cy="1268.92" r="8.05" fill="#0000ff" fill-opacity="0.72" stroke="#0000ff" stroke-opacity="0.45" stroke-width="1.1"/>
<circle cx="449.98" cy="1262.37" r="8.05" fill="#0000ff" fill-opacity="0.72" stroke="#0000ff" stroke-opacity="0.45" stroke-width="1.1"/>
<circle cx="668.18" cy="1266.87" r="8.05" fill="#0000ff" fill-opacity="0.72" stroke="#0000ff" stroke-opacity="0.45" stroke-width="1.1"/>
<circle cx="799.1" cy="1286.93" r="8.05" fill="#0000ff" fill-opacity="0.72" stroke="#0000ff" stroke-opacity="0.45" stroke-width="1.1"/>
<g stroke="#000" stroke-width="2.2" fill="none" stroke-linecap="butt">
<path d="M1070 923.3 V1345.9"/>
<path d="M1053.5 1329.4 H1717.3" stroke="#1e1e1e" stroke-width="2.05"/>
<path d="M1053.5 1248.4 H1070"/>
<path d="M1053.5 1167.4 H1070"/>
<path d="M1053.5 1086.4 H1070"/>
<path d="M1053.5 1005.4 H1070"/>
<path d="M1053.5 924.4 H1070"/>
<path d="M1177.7 1329.4 V1345.9"/>
<path d="M1285.4 1329.4 V1345.9"/>
<path d="M1393.1 1329.4 V1345.9"/>
<path d="M1500.8 1329.4 V1345.9"/>
<path d="M1608.5 1329.4 V1345.9"/>
<path d="M1716.2 1329.4 V1345.9"/>
</g>
<g font-family="'Liberation Sans', Arial, sans-serif" font-size="21.8" fill="#000">
<text transform="translate(1042.9 1337.1) scale(1 1.045)" text-anchor="end">0</text>
<text transform="translate(1042.9 1256.1) scale(1 1.045)" text-anchor="end">80</text>
<text transform="translate(1042.9 1175.1) scale(1 1.045)" text-anchor="end">160</text>
<text transform="translate(1042.9 1094.1) scale(1 1.045)" text-anchor="end">240</text>
<text transform="translate(1042.9 1013.1) scale(1 1.045)" text-anchor="end">320</text>
<text transform="translate(1042.9 932.1) scale(1 1.045)" text-anchor="end">400</text>
<text transform="translate(1070 1377.7) scale(1 1.045)" text-anchor="middle">0</text>
<text transform="translate(1177.7 1377.7) scale(1 1.045)" text-anchor="middle">5</text>
<text transform="translate(1285.4 1377.7) scale(1 1.045)" text-anchor="middle">10</text>
<text transform="translate(1393.1 1377.7) scale(1 1.045)" text-anchor="middle">15</text>
<text transform="translate(1500.8 1377.7) scale(1 1.045)" text-anchor="middle">20</text>
<text transform="translate(1608.5 1377.7) scale(1 1.045)" text-anchor="middle">25</text>
<text transform="translate(1716.2 1377.7) scale(1 1.045)" text-anchor="middle">30</text>
<text transform="translate(1391.9 1408.1) scale(1 1.045)" text-anchor="middle">Time (h)</text>
<text transform="translate(993.5 1126) rotate(-90) scale(1 1.045)" text-anchor="middle" font-size="22.03">Mean plasma concentration of fenbendazole (ng/mL)</text>
</g>
<text transform="translate(943 859) scale(1 1.045)" font-family="'Liberation Sans', Arial, sans-serif" font-size="30.5">D</text>
<g font-family="'Liberation Sans', Arial, sans-serif" font-size="21.5">
<path d="M1457.6 991.3 H1501" stroke="#dd0000" stroke-width="2.2"/>
<rect x="1470.7" y="982.7" width="17.2" height="17.2" fill="#dd0000"/>
<text transform="translate(1525.3 999.3) scale(1 1.045)">Test</text>
<g opacity="1">
<path d="M1457.6 947.1 H1501" stroke="#0000ff" stroke-opacity="0.72" stroke-width="2.2"/>
<circle cx="1479.3" cy="947.1" r="8.35" fill="#0000ff" fill-opacity="0.72" stroke="#0000ff" stroke-opacity="0.45" stroke-width="1.1"/>
</g>
<text transform="translate(1525.3 955.1) scale(1 1.045)">Reference</text>
</g>
<polyline points="1070,1329.4 1073.66,1326.36 1077.11,1323.33 1084.43,1298.22 1091.54,1279.48 1102.31,1259.74 1113.08,1245.77 1123.85,1237.36 1134.62,1233.42 1156.16,1191.8 1177.7,1174.39 1199.24,1205.88 1220.78,1234.02 1242.32,1250.43 1263.86,1255.59 1285.4,1259.74 1306.94,1266.32 1328.48,1274.62 1371.56,1275.74 1586.96,1301.56 1716.2,1309.86" fill="none" stroke="#dd0000" stroke-opacity="1" stroke-width="2.2" stroke-linejoin="miter"/>
<path d="M1077.11 1323.33 V1313.5 M1068.86 1313.5 H1085.36" fill="none" stroke="#dd0000" stroke-opacity="1" stroke-width="2"/>
<path d="M1084.43 1298.22 V1277.76 M1076.18 1277.76 H1092.68" fill="none" stroke="#dd0000" stroke-opacity="1" stroke-width="2"/>
<path d="M1091.54 1279.48 V1248.7 M1083.29 1248.7 H1099.79" fill="none" stroke="#dd0000" stroke-opacity="1" stroke-width="2"/>
<path d="M1102.31 1259.74 V1221.06 M1094.06 1221.06 H1110.56" fill="none" stroke="#dd0000" stroke-opacity="1" stroke-width="2"/>
<path d="M1113.08 1245.77 V1203.14 M1104.83 1203.14 H1121.33" fill="none" stroke="#dd0000" stroke-opacity="1" stroke-width="2"/>
<path d="M1123.85 1237.36 V1189.47 M1115.6 1189.47 H1132.1" fill="none" stroke="#dd0000" stroke-opacity="1" stroke-width="2"/>
<path d="M1134.62 1233.42 V1184.71 M1126.37 1184.71 H1142.87" fill="none" stroke="#dd0000" stroke-opacity="1" stroke-width="2"/>
<path d="M1156.16 1191.8 V1110.5 M1147.91 1110.5 H1164.41" fill="none" stroke="#dd0000" stroke-opacity="1" stroke-width="2"/>
<path d="M1177.7 1174.39 V1065.54 M1169.45 1065.54 H1185.95" fill="none" stroke="#dd0000" stroke-opacity="1" stroke-width="2"/>
<path d="M1199.24 1205.88 V1115.76 M1190.99 1115.76 H1207.49" fill="none" stroke="#dd0000" stroke-opacity="1" stroke-width="2"/>
<path d="M1220.78 1234.02 V1168.62 M1212.53 1168.62 H1229.03" fill="none" stroke="#dd0000" stroke-opacity="1" stroke-width="2"/>
<path d="M1242.32 1250.43 V1198.08 M1234.07 1198.08 H1250.57" fill="none" stroke="#dd0000" stroke-opacity="1" stroke-width="2"/>
<path d="M1263.86 1255.59 V1207.7 M1255.61 1207.7 H1272.11" fill="none" stroke="#dd0000" stroke-opacity="1" stroke-width="2"/>
<path d="M1285.4 1259.74 V1217.82 M1277.15 1217.82 H1293.65" fill="none" stroke="#dd0000" stroke-opacity="1" stroke-width="2"/>
<path d="M1306.94 1266.32 V1225.62 M1298.69 1225.62 H1315.19" fill="none" stroke="#dd0000" stroke-opacity="1" stroke-width="2"/>
<path d="M1328.48 1274.62 V1239.09 M1320.23 1239.09 H1336.73" fill="none" stroke="#dd0000" stroke-opacity="1" stroke-width="2"/>
<path d="M1371.56 1275.74 V1228.76 M1363.31 1228.76 H1379.81" fill="none" stroke="#dd0000" stroke-opacity="1" stroke-width="2"/>
<path d="M1586.96 1301.56 V1275.33 M1578.71 1275.33 H1595.21" fill="none" stroke="#dd0000" stroke-opacity="1" stroke-width="2"/>
<rect x="1061.4" y="1320.8" width="17.2" height="17.2" fill="#dd0000"/>
<rect x="1065.06" y="1317.76" width="17.2" height="17.2" fill="#dd0000"/>
<rect x="1068.51" y="1314.73" width="17.2" height="17.2" fill="#dd0000"/>
<rect x="1075.83" y="1289.62" width="17.2" height="17.2" fill="#dd0000"/>
<rect x="1082.94" y="1270.88" width="17.2" height="17.2" fill="#dd0000"/>
<rect x="1093.71" y="1251.14" width="17.2" height="17.2" fill="#dd0000"/>
<rect x="1104.48" y="1237.17" width="17.2" height="17.2" fill="#dd0000"/>
<rect x="1115.25" y="1228.76" width="17.2" height="17.2" fill="#dd0000"/>
<rect x="1126.02" y="1224.82" width="17.2" height="17.2" fill="#dd0000"/>
<rect x="1147.56" y="1183.2" width="17.2" height="17.2" fill="#dd0000"/>
<rect x="1169.1" y="1165.79" width="17.2" height="17.2" fill="#dd0000"/>
<rect x="1190.64" y="1197.28" width="17.2" height="17.2" fill="#dd0000"/>
<rect x="1212.18" y="1225.42" width="17.2" height="17.2" fill="#dd0000"/>
<rect x="1233.72" y="1241.83" width="17.2" height="17.2" fill="#dd0000"/>
<rect x="1255.26" y="1246.99" width="17.2" height="17.2" fill="#dd0000"/>
<rect x="1276.8" y="1251.14" width="17.2" height="17.2" fill="#dd0000"/>
<rect x="1298.34" y="1257.72" width="17.2" height="17.2" fill="#dd0000"/>
<rect x="1319.88" y="1266.02" width="17.2" height="17.2" fill="#dd0000"/>
<rect x="1362.96" y="1267.14" width="17.2" height="17.2" fill="#dd0000"/>
<rect x="1578.36" y="1292.96" width="17.2" height="17.2" fill="#dd0000"/>
<rect x="1707.6" y="1301.26" width="17.2" height="17.2" fill="#dd0000"/>
<polyline points="1070,1329.4 1073.66,1329.4 1077.11,1321.5 1084.43,1289.41 1091.54,1268.55 1102.31,1248.7 1113.08,1232.1 1123.85,1219.24 1134.62,1214.89 1156.16,1174.29 1177.7,1142.7 1199.24,1164.16 1220.78,1197.78 1242.32,1221.06 1263.86,1238.28 1285.4,1250.22 1306.94,1259.13 1328.48,1268.65 1371.56,1275.74 1586.96,1291.23 1716.2,1288.39" fill="none" stroke="#0000ff" stroke-opacity="0.72" stroke-width="2.2" stroke-linejoin="miter"/>
<path d="M1077.11 1321.5 V1311.38 M1068.86 1311.38 H1085.36" fill="none" stroke="#0000ff" stroke-opacity="0.72" stroke-width="2"/>
<path d="M1084.43 1289.41 V1264.5 M1076.18 1264.5 H1092.68" fill="none" stroke="#0000ff" stroke-opacity="0.72" stroke-width="2"/>
<path d="M1091.54 1268.55 V1236.35 M1083.29 1236.35 H1099.79" fill="none" stroke="#0000ff" stroke-opacity="0.72" stroke-width="2"/>
<path d="M1102.31 1248.7 V1214.38 M1094.06 1214.38 H1110.56" fill="none" stroke="#0000ff" stroke-opacity="0.72" stroke-width="2"/>
<path d="M1113.08 1232.1 V1193.52 M1104.83 1193.52 H1121.33" fill="none" stroke="#0000ff" stroke-opacity="0.72" stroke-width="2"/>
<path d="M1123.85 1219.24 V1176.92 M1115.6 1176.92 H1132.1" fill="none" stroke="#0000ff" stroke-opacity="0.72" stroke-width="2"/>
<path d="M1134.62 1214.89 V1170.84 M1126.37 1170.84 H1142.87" fill="none" stroke="#0000ff" stroke-opacity="0.72" stroke-width="2"/>
<path d="M1156.16 1174.29 V1098.65 M1147.91 1098.65 H1164.41" fill="none" stroke="#0000ff" stroke-opacity="0.72" stroke-width="2"/>
<path d="M1177.7 1142.7 V1029.4 M1169.45 1029.4 H1185.95" fill="none" stroke="#0000ff" stroke-opacity="0.72" stroke-width="2"/>
<path d="M1199.24 1164.16 V1047.22 M1190.99 1047.22 H1207.49" fill="none" stroke="#0000ff" stroke-opacity="0.72" stroke-width="2"/>
<path d="M1220.78 1197.78 V1106.25 M1212.53 1106.25 H1229.03" fill="none" stroke="#0000ff" stroke-opacity="0.72" stroke-width="2"/>
<path d="M1242.32 1221.06 V1147.05 M1234.07 1147.05 H1250.57" fill="none" stroke="#0000ff" stroke-opacity="0.72" stroke-width="2"/>
<path d="M1263.86 1238.28 V1176.82 M1255.61 1176.82 H1272.11" fill="none" stroke="#0000ff" stroke-opacity="0.72" stroke-width="2"/>
<path d="M1285.4 1250.22 V1198.08 M1277.15 1198.08 H1293.65" fill="none" stroke="#0000ff" stroke-opacity="0.72" stroke-width="2"/>
<path d="M1306.94 1259.13 V1210.94 M1298.69 1210.94 H1315.19" fill="none" stroke="#0000ff" stroke-opacity="0.72" stroke-width="2"/>
<path d="M1328.48 1268.65 V1224 M1320.23 1224 H1336.73" fill="none" stroke="#0000ff" stroke-opacity="0.72" stroke-width="2"/>
<path d="M1371.56 1275.74 V1240.1 M1363.31 1240.1 H1379.81" fill="none" stroke="#0000ff" stroke-opacity="0.72" stroke-width="2"/>
<path d="M1586.96 1291.23 V1239.69 M1578.71 1239.69 H1595.21" fill="none" stroke="#0000ff" stroke-opacity="0.72" stroke-width="2"/>
<path d="M1716.2 1288.39 V1234.63 M1707.95 1234.63 H1724.45" fill="none" stroke="#0000ff" stroke-opacity="0.72" stroke-width="2"/>
<circle cx="1070" cy="1329.4" r="8.05" fill="#0000ff" fill-opacity="0.72" stroke="#0000ff" stroke-opacity="0.45" stroke-width="1.1"/>
<circle cx="1073.66" cy="1329.4" r="8.05" fill="#0000ff" fill-opacity="0.72" stroke="#0000ff" stroke-opacity="0.45" stroke-width="1.1"/>
<circle cx="1077.11" cy="1321.5" r="8.05" fill="#0000ff" fill-opacity="0.72" stroke="#0000ff" stroke-opacity="0.45" stroke-width="1.1"/>
<circle cx="1084.43" cy="1289.41" r="8.05" fill="#0000ff" fill-opacity="0.72" stroke="#0000ff" stroke-opacity="0.45" stroke-width="1.1"/>
<circle cx="1091.54" cy="1268.55" r="8.05" fill="#0000ff" fill-opacity="0.72" stroke="#0000ff" stroke-opacity="0.45" stroke-width="1.1"/>
<circle cx="1102.31" cy="1248.7" r="8.05" fill="#0000ff" fill-opacity="0.72" stroke="#0000ff" stroke-opacity="0.45" stroke-width="1.1"/>
<circle cx="1113.08" cy="1232.1" r="8.05" fill="#0000ff" fill-opacity="0.72" stroke="#0000ff" stroke-opacity="0.45" stroke-width="1.1"/>
<circle cx="1123.85" cy="1219.24" r="8.05" fill="#0000ff" fill-opacity="0.72" stroke="#0000ff" stroke-opacity="0.45" stroke-width="1.1"/>
<circle cx="1134.62" cy="1214.89" r="8.05" fill="#0000ff" fill-opacity="0.72" stroke="#0000ff" stroke-opacity="0.45" stroke-width="1.1"/>
<circle cx="1156.16" cy="1174.29" r="8.05" fill="#0000ff" fill-opacity="0.72" stroke="#0000ff" stroke-opacity="0.45" stroke-width="1.1"/>
<circle cx="1177.7" cy="1142.7" r="8.05" fill="#0000ff" fill-opacity="0.72" stroke="#0000ff" stroke-opacity="0.45" stroke-width="1.1"/>
<circle cx="1199.24" cy="1164.16" r="8.05" fill="#0000ff" fill-opacity="0.72" stroke="#0000ff" stroke-opacity="0.45" stroke-width="1.1"/>
<circle cx="1220.78" cy="1197.78" r="8.05" fill="#0000ff" fill-opacity="0.72" stroke="#0000ff" stroke-opacity="0.45" stroke-width="1.1"/>
<circle cx="1242.32" cy="1221.06" r="8.05" fill="#0000ff" fill-opacity="0.72" stroke="#0000ff" stroke-opacity="0.45" stroke-width="1.1"/>
<circle cx="1263.86" cy="1238.28" r="8.05" fill="#0000ff" fill-opacity="0.72" stroke="#0000ff" stroke-opacity="0.45" stroke-width="1.1"/>
<circle cx="1285.4" cy="1250.22" r="8.05" fill="#0000ff" fill-opacity="0.72" stroke="#0000ff" stroke-opacity="0.45" stroke-width="1.1"/>
<circle cx="1306.94" cy="1259.13" r="8.05" fill="#0000ff" fill-opacity="0.72" stroke="#0000ff" stroke-opacity="0.45" stroke-width="1.1"/>
<circle cx="1328.48" cy="1268.65" r="8.05" fill="#0000ff" fill-opacity="0.72" stroke="#0000ff" stroke-opacity="0.45" stroke-width="1.1"/>
<circle cx="1371.56" cy="1275.74" r="8.05" fill="#0000ff" fill-opacity="0.72" stroke="#0000ff" stroke-opacity="0.45" stroke-width="1.1"/>
<circle cx="1586.96" cy="1291.23" r="8.05" fill="#0000ff" fill-opacity="0.72" stroke="#0000ff" stroke-opacity="0.45" stroke-width="1.1"/>
<circle cx="1716.2" cy="1288.39" r="8.05" fill="#0000ff" fill-opacity="0.72" stroke="#0000ff" stroke-opacity="0.45" stroke-width="1.1"/>
<g stroke="#000" stroke-width="2.2" fill="none" stroke-linecap="butt">
<path d="M129.3 1754.1 V2213.4"/>
<path d="M112.8 2196.9 H792.5" stroke="#1e1e1e" stroke-width="2.05"/>
<path d="M112.8 2108.56 H129.3"/>
<path d="M112.8 2020.22 H129.3"/>
<path d="M112.8 1931.88 H129.3"/>
<path d="M112.8 1843.54 H129.3"/>
<path d="M112.8 1755.2 H129.3"/>
<path d="M239.65 2196.9 V2213.4"/>
<path d="M350 2196.9 V2213.4"/>
<path d="M460.35 2196.9 V2213.4"/>
<path d="M570.7 2196.9 V2213.4"/>
<path d="M681.05 2196.9 V2213.4"/>
<path d="M791.4 2196.9 V2213.4"/>
</g>
<g font-family="'Liberation Sans', Arial, sans-serif" font-size="22.3" fill="#000">
<text transform="translate(102.2 2205.4) scale(1 1.045)" text-anchor="end">0</text>
<text transform="translate(102.2 2117.06) scale(1 1.045)" text-anchor="end">80</text>
<text transform="translate(102.2 2028.72) scale(1 1.045)" text-anchor="end">160</text>
<text transform="translate(102.2 1940.38) scale(1 1.045)" text-anchor="end">240</text>
<text transform="translate(102.2 1852.04) scale(1 1.045)" text-anchor="end">320</text>
<text transform="translate(102.2 1763.7) scale(1 1.045)" text-anchor="end">400</text>
<text transform="translate(129.3 2246.1) scale(1 1.045)" text-anchor="middle">0</text>
<text transform="translate(239.65 2246.1) scale(1 1.045)" text-anchor="middle">5</text>
<text transform="translate(350 2246.1) scale(1 1.045)" text-anchor="middle">10</text>
<text transform="translate(460.35 2246.1) scale(1 1.045)" text-anchor="middle">15</text>
<text transform="translate(570.7 2246.1) scale(1 1.045)" text-anchor="middle">20</text>
<text transform="translate(681.05 2246.1) scale(1 1.045)" text-anchor="middle">25</text>
<text transform="translate(791.4 2246.1) scale(1 1.045)" text-anchor="middle">30</text>
<text transform="translate(461.1 2277.4) scale(1 1.045)" text-anchor="middle">Time (h)</text>
<text transform="translate(50.7 1980.2) rotate(-90) scale(1 1.045)" text-anchor="middle" font-size="22.65">Mean plasma concentration of oxfendazole (ng/mL)</text>
</g>
<text transform="translate(3.3 1694.3) scale(1 1.045)" font-family="'Liberation Sans', Arial, sans-serif" font-size="31.8">E</text>
<g font-family="'Liberation Sans', Arial, sans-serif" font-size="22">
<path d="M523 1854 H567" stroke="#dd0000" stroke-width="2.2"/>
<rect x="536.4" y="1845.4" width="17.2" height="17.2" fill="#dd0000"/>
<text transform="translate(591.5 1862) scale(1 1.045)">Test</text>
<g opacity="1">
<path d="M523 1809 H567" stroke="#0000ff" stroke-opacity="0.72" stroke-width="2.2"/>
<circle cx="545" cy="1809" r="8.35" fill="#0000ff" fill-opacity="0.72" stroke="#0000ff" stroke-opacity="0.45" stroke-width="1.1"/>
</g>
<text transform="translate(591.5 1817) scale(1 1.045)">Reference</text>
</g>
<polyline points="129.3,2196.9 136.58,2196.57 144.09,2187.96 151.37,2173.71 162.41,2155.16 173.44,2136.39 184.47,2117.84 195.51,2101.6 217.58,2068.59 239.65,2030.38 261.72,2017.46 283.79,2012.05 305.86,2029.05 327.93,2041.64 350,2054.45 372.07,2072.34 394.14,2095.75 438.28,2121.26 658.98,2174.48 791.4,2185.31" fill="none" stroke="#dd0000" stroke-opacity="1" stroke-width="2.2" stroke-linejoin="miter"/>
<path d="M151.37 2173.71 V2163.55 M143.12 2163.55 H159.62" fill="none" stroke="#dd0000" stroke-opacity="1" stroke-width="2"/>
<path d="M162.41 2155.16 V2136.17 M154.16 2136.17 H170.66" fill="none" stroke="#dd0000" stroke-opacity="1" stroke-width="2"/>
<path d="M173.44 2136.39 V2111.65 M165.19 2111.65 H181.69" fill="none" stroke="#dd0000" stroke-opacity="1" stroke-width="2"/>
<path d="M184.47 2117.84 V2083.05 M176.22 2083.05 H192.72" fill="none" stroke="#dd0000" stroke-opacity="1" stroke-width="2"/>
<path d="M195.51 2101.6 V2059.31 M187.26 2059.31 H203.76" fill="none" stroke="#dd0000" stroke-opacity="1" stroke-width="2"/>
<path d="M217.58 2068.59 V2012.05 M209.33 2012.05 H225.83" fill="none" stroke="#dd0000" stroke-opacity="1" stroke-width="2"/>
<path d="M239.65 2030.38 V1947.89 M231.4 1947.89 H247.9" fill="none" stroke="#dd0000" stroke-opacity="1" stroke-width="2"/>
<path d="M261.72 2017.46 V1923.49 M253.47 1923.49 H269.97" fill="none" stroke="#dd0000" stroke-opacity="1" stroke-width="2"/>
<path d="M283.79 2012.05 V1898.75 M275.54 1898.75 H292.04" fill="none" stroke="#dd0000" stroke-opacity="1" stroke-width="2"/>
<path d="M305.86 2029.05 V1922.49 M297.61 1922.49 H314.11" fill="none" stroke="#dd0000" stroke-opacity="1" stroke-width="2"/>
<path d="M327.93 2041.64 V1939.17 M319.68 1939.17 H336.18" fill="none" stroke="#dd0000" stroke-opacity="1" stroke-width="2"/>
<path d="M350 2054.45 V1954.74 M341.75 1954.74 H358.25" fill="none" stroke="#dd0000" stroke-opacity="1" stroke-width="2"/>
<path d="M372.07 2072.34 V1984.88 M363.82 1984.88 H380.32" fill="none" stroke="#dd0000" stroke-opacity="1" stroke-width="2"/>
<path d="M394.14 2095.75 V2017.13 M385.89 2017.13 H402.39" fill="none" stroke="#dd0000" stroke-opacity="1" stroke-width="2"/>
<path d="M438.28 2121.26 V2053.57 M430.03 2053.57 H446.53" fill="none" stroke="#dd0000" stroke-opacity="1" stroke-width="2"/>
<path d="M658.98 2174.48 V2147.1 M650.73 2147.1 H667.23" fill="none" stroke="#dd0000" stroke-opacity="1" stroke-width="2"/>
<rect x="120.7" y="2188.3" width="17.2" height="17.2" fill="#dd0000"/>
<rect x="127.98" y="2187.97" width="17.2" height="17.2" fill="#dd0000"/>
<rect x="135.49" y="2179.36" width="17.2" height="17.2" fill="#dd0000"/>
<rect x="142.77" y="2165.11" width="17.2" height="17.2" fill="#dd0000"/>
<rect x="153.81" y="2146.56" width="17.2" height="17.2" fill="#dd0000"/>
<rect x="164.84" y="2127.79" width="17.2" height="17.2" fill="#dd0000"/>
<rect x="175.88" y="2109.24" width="17.2" height="17.2" fill="#dd0000"/>
<rect x="186.91" y="2093" width="17.2" height="17.2" fill="#dd0000"/>
<rect x="208.98" y="2059.99" width="17.2" height="17.2" fill="#dd0000"/>
<rect x="231.05" y="2021.78" width="17.2" height="17.2" fill="#dd0000"/>
<rect x="253.12" y="2008.86" width="17.2" height="17.2" fill="#dd0000"/>
<rect x="275.19" y="2003.45" width="17.2" height="17.2" fill="#dd0000"/>
<rect x="297.26" y="2020.45" width="17.2" height="17.2" fill="#dd0000"/>
<rect x="319.33" y="2033.04" width="17.2" height="17.2" fill="#dd0000"/>
<rect x="341.4" y="2045.85" width="17.2" height="17.2" fill="#dd0000"/>
<rect x="363.47" y="2063.74" width="17.2" height="17.2" fill="#dd0000"/>
<rect x="385.54" y="2087.15" width="17.2" height="17.2" fill="#dd0000"/>
<rect x="429.68" y="2112.66" width="17.2" height="17.2" fill="#dd0000"/>
<rect x="650.38" y="2165.88" width="17.2" height="17.2" fill="#dd0000"/>
<rect x="782.8" y="2176.71" width="17.2" height="17.2" fill="#dd0000"/>
<polyline points="129.3,2196.9 136.58,2196.57 144.09,2184.97 151.37,2170.07 162.41,2146.88 173.44,2124.57 184.47,2102.82 195.51,2081.29 217.58,2050.48 239.65,2005.31 261.72,1983.56 283.79,1974.95 305.86,1982.68 327.93,1996.37 350,2020.22 372.07,2042.31 394.14,2059.97 438.28,2101.93 658.98,2157.59 791.4,2157.59" fill="none" stroke="#0000ff" stroke-opacity="0.72" stroke-width="2.2" stroke-linejoin="miter"/>
<path d="M144.09 2184.97 V2175.15 M135.84 2175.15 H152.34" fill="none" stroke="#0000ff" stroke-opacity="0.72" stroke-width="2"/>
<path d="M151.37 2170.07 V2155.16 M143.12 2155.16 H159.62" fill="none" stroke="#0000ff" stroke-opacity="0.72" stroke-width="2"/>
<path d="M162.41 2146.88 V2125.46 M154.16 2125.46 H170.66" fill="none" stroke="#0000ff" stroke-opacity="0.72" stroke-width="2"/>
<path d="M173.44 2124.57 V2096.08 M165.19 2096.08 H181.69" fill="none" stroke="#0000ff" stroke-opacity="0.72" stroke-width="2"/>
<path d="M184.47 2102.82 V2067.92 M176.22 2067.92 H192.72" fill="none" stroke="#0000ff" stroke-opacity="0.72" stroke-width="2"/>
<path d="M195.51 2081.29 V2042.86 M187.26 2042.86 H203.76" fill="none" stroke="#0000ff" stroke-opacity="0.72" stroke-width="2"/>
<path d="M217.58 2050.48 V1996.7 M209.33 1996.7 H225.83" fill="none" stroke="#0000ff" stroke-opacity="0.72" stroke-width="2"/>
<path d="M239.65 2005.31 V1925.25 M231.4 1925.25 H247.9" fill="none" stroke="#0000ff" stroke-opacity="0.72" stroke-width="2"/>
<path d="M261.72 1983.56 V1878.88 M253.47 1878.88 H269.97" fill="none" stroke="#0000ff" stroke-opacity="0.72" stroke-width="2"/>
<path d="M283.79 1974.95 V1850.61 M275.54 1850.61 H292.04" fill="none" stroke="#0000ff" stroke-opacity="0.72" stroke-width="2"/>
<path d="M305.86 1982.68 V1851.27 M297.61 1851.27 H314.11" fill="none" stroke="#0000ff" stroke-opacity="0.72" stroke-width="2"/>
<path d="M327.93 1996.37 V1856.24 M319.68 1856.24 H336.18" fill="none" stroke="#0000ff" stroke-opacity="0.72" stroke-width="2"/>
<path d="M350 2020.22 V1885.5 M341.75 1885.5 H358.25" fill="none" stroke="#0000ff" stroke-opacity="0.72" stroke-width="2"/>
<path d="M372.07 2042.31 V1912 M363.82 1912 H380.32" fill="none" stroke="#0000ff" stroke-opacity="0.72" stroke-width="2"/>
<path d="M394.14 2059.97 V1935.41 M385.89 1935.41 H402.39" fill="none" stroke="#0000ff" stroke-opacity="0.72" stroke-width="2"/>
<path d="M438.28 2101.93 V2008.07 M430.03 2008.07 H446.53" fill="none" stroke="#0000ff" stroke-opacity="0.72" stroke-width="2"/>
<path d="M658.98 2157.59 V2069.36 M650.73 2069.36 H667.23" fill="none" stroke="#0000ff" stroke-opacity="0.72" stroke-width="2"/>
<path d="M791.4 2157.59 V2076.54 M783.15 2076.54 H799.65" fill="none" stroke="#0000ff" stroke-opacity="0.72" stroke-width="2"/>
<circle cx="129.3" cy="2196.9" r="8.05" fill="#0000ff" fill-opacity="0.72" stroke="#0000ff" stroke-opacity="0.45" stroke-width="1.1"/>
<circle cx="136.58" cy="2196.57" r="8.05" fill="#0000ff" fill-opacity="0.72" stroke="#0000ff" stroke-opacity="0.45" stroke-width="1.1"/>
<circle cx="144.09" cy="2184.97" r="8.05" fill="#0000ff" fill-opacity="0.72" stroke="#0000ff" stroke-opacity="0.45" stroke-width="1.1"/>
<circle cx="151.37" cy="2170.07" r="8.05" fill="#0000ff" fill-opacity="0.72" stroke="#0000ff" stroke-opacity="0.45" stroke-width="1.1"/>
<circle cx="162.41" cy="2146.88" r="8.05" fill="#0000ff" fill-opacity="0.72" stroke="#0000ff" stroke-opacity="0.45" stroke-width="1.1"/>
<circle cx="173.44" cy="2124.57" r="8.05" fill="#0000ff" fill-opacity="0.72" stroke="#0000ff" stroke-opacity="0.45" stroke-width="1.1"/>
<circle cx="184.47" cy="2102.82" r="8.05" fill="#0000ff" fill-opacity="0.72" stroke="#0000ff" stroke-opacity="0.45" stroke-width="1.1"/>
<circle cx="195.51" cy="2081.29" r="8.05" fill="#0000ff" fill-opacity="0.72" stroke="#0000ff" stroke-opacity="0.45" stroke-width="1.1"/>
<circle cx="217.58" cy="2050.48" r="8.05" fill="#0000ff" fill-opacity="0.72" stroke="#0000ff" stroke-opacity="0.45" stroke-width="1.1"/>
<circle cx="239.65" cy="2005.31" r="8.05" fill="#0000ff" fill-opacity="0.72" stroke="#0000ff" stroke-opacity="0.45" stroke-width="1.1"/>
<circle cx="261.72" cy="1983.56" r="8.05" fill="#0000ff" fill-opacity="0.72" stroke="#0000ff" stroke-opacity="0.45" stroke-width="1.1"/>
<circle cx="283.79" cy="1974.95" r="8.05" fill="#0000ff" fill-opacity="0.72" stroke="#0000ff" stroke-opacity="0.45" stroke-width="1.1"/>
<circle cx="305.86" cy="1982.68" r="8.05" fill="#0000ff" fill-opacity="0.72" stroke="#0000ff" stroke-opacity="0.45" stroke-width="1.1"/>
<circle cx="327.93" cy="1996.37" r="8.05" fill="#0000ff" fill-opacity="0.72" stroke="#0000ff" stroke-opacity="0.45" stroke-width="1.1"/>
<circle cx="350" cy="2020.22" r="8.05" fill="#0000ff" fill-opacity="0.72" stroke="#0000ff" stroke-opacity="0.45" stroke-width="1.1"/>
<circle cx="372.07" cy="2042.31" r="8.05" fill="#0000ff" fill-opacity="0.72" stroke="#0000ff" stroke-opacity="0.45" stroke-width="1.1"/>
<circle cx="394.14" cy="2059.97" r="8.05" fill="#0000ff" fill-opacity="0.72" stroke="#0000ff" stroke-opacity="0.45" stroke-width="1.1"/>
<circle cx="438.28" cy="2101.93" r="8.05" fill="#0000ff" fill-opacity="0.72" stroke="#0000ff" stroke-opacity="0.45" stroke-width="1.1"/>
<circle cx="658.98" cy="2157.59" r="8.05" fill="#0000ff" fill-opacity="0.72" stroke="#0000ff" stroke-opacity="0.45" stroke-width="1.1"/>
<circle cx="791.4" cy="2157.59" r="8.05" fill="#0000ff" fill-opacity="0.72" stroke="#0000ff" stroke-opacity="0.45" stroke-width="1.1"/>
</svg></body></html>
